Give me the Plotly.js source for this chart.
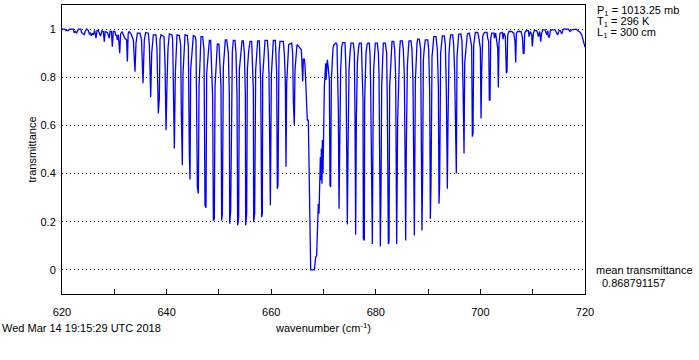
<!DOCTYPE html>
<html>
<head>
<meta charset="utf-8">
<script src="https://cdn.plot.ly/plotly-3.0.1.min.js"></script>
<style>html,body{margin:0;padding:0;background:#fff;}#chart{width:699px;height:360px;}</style>
</head>
<body>
<div id="chart"></div>
<script>
// Spectrum vertices (wavenumber in cm^-1, transmittance)
const waveNumber = [
620.00,620.57,620.70,621.20,621.40,622.17,622.30,622.55,622.80,623.12,623.57,623.76,624.08,624.30,624.40,624.72,625.04,625.23,625.45,625.61,625.85,625.99,626.25,626.50,626.70,626.95,627.20,627.39,627.65,627.90,628.09,628.25,628.70,629.05,629.18,629.45,629.62,629.80,630.10,630.33,630.45,630.58,630.77,631.03,631.20,631.50,631.73,632.00,632.35,632.50,632.65,632.81,633.20,633.64,633.96,634.15,634.40,634.91,635.20,635.36,635.49,635.74,636.00,636.51,636.70,636.96,637.15,637.46,637.97,638.16,638.42,638.61,638.74,
638.93,639.50,639.70,639.89,640.08,640.27,640.52,641.03,641.16,641.29,641.48,641.67,641.80,641.99,642.44,642.69,642.82,643.01,643.14,643.33,643.52,643.97,644.16,644.35,644.48,644.60,644.86,645.11,645.43,645.62,645.88,646.07,646.20,646.39,646.58,646.90,647.15,647.34,647.54,647.66,647.92,648.17,648.43,648.62,648.81,648.94,649.13,649.26,649.45,649.70,650.02,650.21,650.40,650.53,650.66,650.85,651.04,651.23,651.49,651.81,652.00,652.06,652.25,652.44,652.57,652.76,653.08,653.27,653.46,653.59,653.78,653.91,654.16,654.42,654.67,654.87,655.06,655.12,655.31,655.44,655.69,655.95,656.27,656.39,656.59,656.65,656.84,657.03,657.22,657.41,657.73,
657.99,658.18,658.31,658.37,658.62,658.82,659.26,659.45,659.58,659.71,659.84,660.03,660.22,660.41,660.79,661.05,661.17,661.30,661.49,661.68,662.32,662.51,662.70,662.83,662.96,663.15,663.34,663.91,664.11,664.23,664.42,664.55,664.74,664.93,665.38,665.57,665.76,665.89,666.02,666.15,666.34,666.46,666.66,666.91,667.10,667.23,667.42,667.55,668.25,668.50,668.69,668.82,669.01,669.14,669.27,669.40,669.52,669.59,669.71,669.78,669.91,669.97,670.10,670.16,670.29,670.42,670.48,670.61,670.73,670.86,670.99,671.12,671.24,671.37,671.50,671.63,671.82,672.01,672.39,672.58,672.71,672.84,672.97,673.09,673.28,673.48,673.67,674.11,674.30,674.43,674.56,674.69,674.88,675.07,675.26,675.71,675.90,676.02,676.15,676.28,676.47,676.66,676.85,677.24,
677.43,677.55,677.62,677.81,677.87,678.00,678.13,678.32,678.51,678.76,678.89,679.02,679.15,679.34,679.47,679.59,679.78,679.91,680.29,680.49,680.61,680.74,680.87,681.00,681.12,681.31,681.44,681.82,682.08,682.21,682.40,682.53,682.65,682.84,682.97,683.10,683.42,683.61,683.80,683.86,683.99,684.18,684.37,684.56,684.69,685.07,685.27,685.46,685.58,685.71,685.84,686.03,686.22,686.35,686.73,686.92,687.11,687.24,687.37,687.56,687.69,687.88,688.01,688.32,688.58,688.71,688.83,688.96,689.09,689.28,689.47,689.92,690.11,690.30,690.43,690.56,690.75,690.94,691.07,691.51,691.77,691.96,692.09,692.21,692.40,692.60,692.72,693.10,693.30,693.49,693.68,693.81,694.00,694.19,694.32,694.70,694.89,695.08,695.27,695.40,695.53,695.72,695.85,696.29,696.48,696.67,696.87,697.00,697.25,697.50,
697.89,698.21,698.33,698.46,698.59,698.72,698.84,699.04,699.48,699.67,699.99,700.12,700.25,700.44,700.76,701.27,701.39,701.59,701.71,701.84,701.97,702.16,702.61,702.67,702.92,703.31,703.43,703.56,703.75,704.20,704.33,704.52,704.77,704.96,705.09,705.22,705.47,705.98,706.37,706.62,706.75,706.88,707.13,707.77,708.02,708.21,708.34,708.47,708.72,709.17,709.30,709.55,709.81,709.93,710.13,710.32,710.76,710.95,711.08,711.34,711.53,711.72,711.91,712.36,712.68,712.87,712.99,713.18,713.38,713.63,714.27,714.59,714.78,715.03,715.29,715.54,715.86,716.82,717.14,717.45,718.28,718.60,719.05,719.37,719.69,719.88,720.00
];
const transmittance = [
1.000,1.000,0.994,0.994,1.000,1.000,0.985,0.990,0.983,1.000,1.000,0.985,0.980,0.976,0.990,1.000,0.994,0.980,0.985,0.972,0.983,0.976,0.994,0.962,0.994,0.994,0.980,0.972,0.994,0.990,0.948,0.990,0.985,0.962,0.990,0.990,0.927,0.990,0.990,0.972,0.976,0.955,0.976,0.900,0.980,0.990,0.976,0.962,0.955,0.865,0.980,0.990,0.980,0.955,0.823,0.941,0.983,0.983,0.955,0.830,0.775,0.955,0.986,0.983,0.934,0.717,0.900,0.976,0.976,0.914,0.650,0.713,0.955,
0.976,0.969,0.858,0.580,0.775,0.921,0.980,0.976,0.955,0.761,0.504,0.817,0.921,0.976,0.973,0.935,0.643,0.435,0.817,0.921,0.976,0.973,0.928,0.476,0.375,0.831,0.921,0.973,0.969,0.955,0.344,0.317,0.761,0.928,0.969,0.969,0.914,0.268,0.258,0.817,0.907,0.953,0.953,0.817,0.712,0.205,0.212,0.761,0.858,0.937,0.937,0.858,0.761,0.205,0.233,0.844,0.907,0.955,0.955,0.900,0.719,0.192,0.247,0.831,0.907,0.953,0.953,0.900,0.726,0.185,0.219,0.831,0.907,0.951,0.951,0.900,0.726,0.185,0.233,0.831,0.907,0.949,0.949,0.886,0.740,0.199,0.233,0.831,0.900,0.951,0.951,
0.782,0.219,0.233,0.803,0.900,0.953,0.953,0.900,0.810,0.268,0.268,0.810,0.900,0.953,0.953,0.817,0.337,0.351,0.900,0.949,0.949,0.900,0.782,0.428,0.775,0.900,0.935,0.942,0.900,0.705,0.601,0.830,0.914,0.935,0.925,0.921,0.914,0.858,0.782,0.875,0.875,0.851,0.733,0.622,0.622,0.407,0.067,0.000,0.000,0.053,0.060,0.129,0.275,0.233,0.324,0.469,0.372,0.504,0.358,0.539,0.400,0.622,0.678,0.761,0.837,0.858,0.789,0.837,0.872,0.851,0.824,0.789,0.351,0.344,0.789,0.858,0.921,0.935,0.942,0.935,0.844,0.664,0.254,0.664,0.830,0.925,0.944,0.944,0.830,0.511,0.189,0.490,0.830,0.900,0.942,0.942,0.900,0.650,0.146,0.622,0.858,0.914,0.942,0.942,
0.740,0.705,0.129,0.122,0.705,0.830,0.900,0.935,0.942,0.942,0.900,0.761,0.567,0.108,0.567,0.830,0.900,0.942,0.942,0.900,0.817,0.497,0.097,0.337,0.761,0.872,0.942,0.942,0.900,0.671,0.108,0.115,0.761,0.844,0.907,0.949,0.949,0.914,0.803,0.622,0.108,0.622,0.837,0.914,0.951,0.951,0.914,0.803,0.511,0.122,0.511,0.844,0.914,0.951,0.951,0.914,0.782,0.143,0.143,0.782,0.872,0.942,0.958,0.958,0.914,0.629,0.164,0.400,0.872,0.921,0.955,0.955,0.914,0.740,0.212,0.365,0.886,0.928,0.969,0.969,0.914,0.761,0.275,0.358,0.900,0.935,0.972,0.972,0.935,0.740,0.337,0.622,0.900,0.955,0.976,0.976,0.935,0.817,0.407,0.400,0.886,0.955,0.979,0.979,0.949,0.775,0.483,0.858,0.942,0.980,
0.983,0.935,0.928,0.553,0.567,0.935,0.969,0.986,0.986,0.969,0.921,0.629,0.824,0.969,0.986,0.986,0.962,0.948,0.705,0.705,0.955,0.983,0.983,0.962,0.983,0.921,0.758,0.942,0.983,0.986,0.958,0.983,0.969,0.817,0.824,0.976,0.990,0.990,0.983,0.948,0.861,0.983,0.990,0.990,0.969,0.897,0.900,0.983,0.993,0.993,0.969,0.990,0.976,0.928,0.983,0.994,0.994,0.983,0.969,0.990,0.948,0.983,0.997,0.997,0.976,0.994,0.969,0.965,0.994,0.997,0.997,0.983,0.976,0.994,0.994,0.979,1.000,1.000,0.990,0.997,1.000,0.994,0.987,0.976,0.955,0.935,0.925
];

const xTickVals = [620, 640, 660, 680, 700, 720];
const yTickVals = [0, 0.2, 0.4, 0.6, 0.8, 1];
const yTickText = ['0', '0.2', '0.4', '0.6', '0.8', '1'];
const paramLines = ['P<sub>1</sub> = 1013.25 mb', 'T<sub>1</sub> = 296 K', 'L<sub>1</sub> = 300 cm'];
const meanLabel = 'mean transmittance';
const meanValue = '0.868791157';
const dateStamp = 'Wed Mar 14 19:15:29 UTC 2018';

const FONT = 'Liberation Sans, Arial, Helvetica, sans-serif';
const L = 62, R = 114, T = 5, B = 66, W = 699, H = 360;
const pw = W - L - R, ph = H - T - B;
const px = x => (x - L) / pw;
const py = y => (H - B - y) / ph;

const trace = {
  x: waveNumber, y: transmittance, type: 'scatter', mode: 'lines',
  line: {color: '#0000ff', width: 1.3}, hoverinfo: 'skip'
};

const ann = [];
const paramY = [11, 22, 33];
paramLines.forEach((t, i) => ann.push({
  text: t, xref: 'paper', yref: 'paper', x: px(595), y: py(paramY[i]),
  xanchor: 'left', yanchor: 'middle', showarrow: false,
  font: {family: FONT, size: 11, color: '#000'}
}));
ann.push({text: meanLabel, xref: 'paper', yref: 'paper', x: px(594), y: py(270),
  xanchor: 'left', yanchor: 'middle', showarrow: false, font: {family: FONT, size: 11, color: '#000'}});
ann.push({text: meanValue, xref: 'paper', yref: 'paper', x: px(600), y: py(283),
  xanchor: 'left', yanchor: 'middle', showarrow: false, font: {family: FONT, size: 11, color: '#000'}});
ann.push({text: dateStamp, xref: 'paper', yref: 'paper', x: px(0), y: py(328),
  xanchor: 'left', yanchor: 'middle', showarrow: false, font: {family: FONT, size: 11, color: '#000'}});

const layout = {
  width: W, height: H,
  margin: {l: L, r: R, t: T, b: B, pad: 0},
  paper_bgcolor: '#fff', plot_bgcolor: '#fff',
  showlegend: false,
  font: {family: FONT, size: 11, color: '#000'},
  xaxis: {
    range: [620, 720], tickmode: 'array', tickvals: xTickVals,
    ticks: 'inside', ticklen: 5, tickcolor: '#000', tickwidth: 1,
    minor: {dtick: 10, tick0: 620, ticks: 'inside', ticklen: 5, tickcolor: '#000', showgrid: false},
    showline: true, mirror: true, linecolor: '#000', linewidth: 1,
    showgrid: false, zeroline: false, ticklabelstandoff: 8,
    tickfont: {family: FONT, size: 11, color: '#000'},
    title: {text: 'wavenumber (cm<sup>-1</sup>)', font: {family: FONT, size: 11, color: '#000'}, standoff: 7}
  },
  yaxis: {
    range: [-0.1, 1.1], tickmode: 'array', tickvals: yTickVals, ticktext: yTickText,
    ticks: '', showline: true, mirror: true, linecolor: '#000', linewidth: 1,
    showgrid: true, gridcolor: '#000', gridwidth: 1, griddash: '1px,3px',
    zeroline: false, ticklabelstandoff: 3,
    tickfont: {family: FONT, size: 11, color: '#000'},
    title: {text: 'transmittance', font: {family: FONT, size: 11, color: '#000'}, standoff: 1}
  },
  annotations: ann
};

Plotly.newPlot('chart', [trace], layout, {staticPlot: true, displayModeBar: false});
</script>
</body>
</html>
